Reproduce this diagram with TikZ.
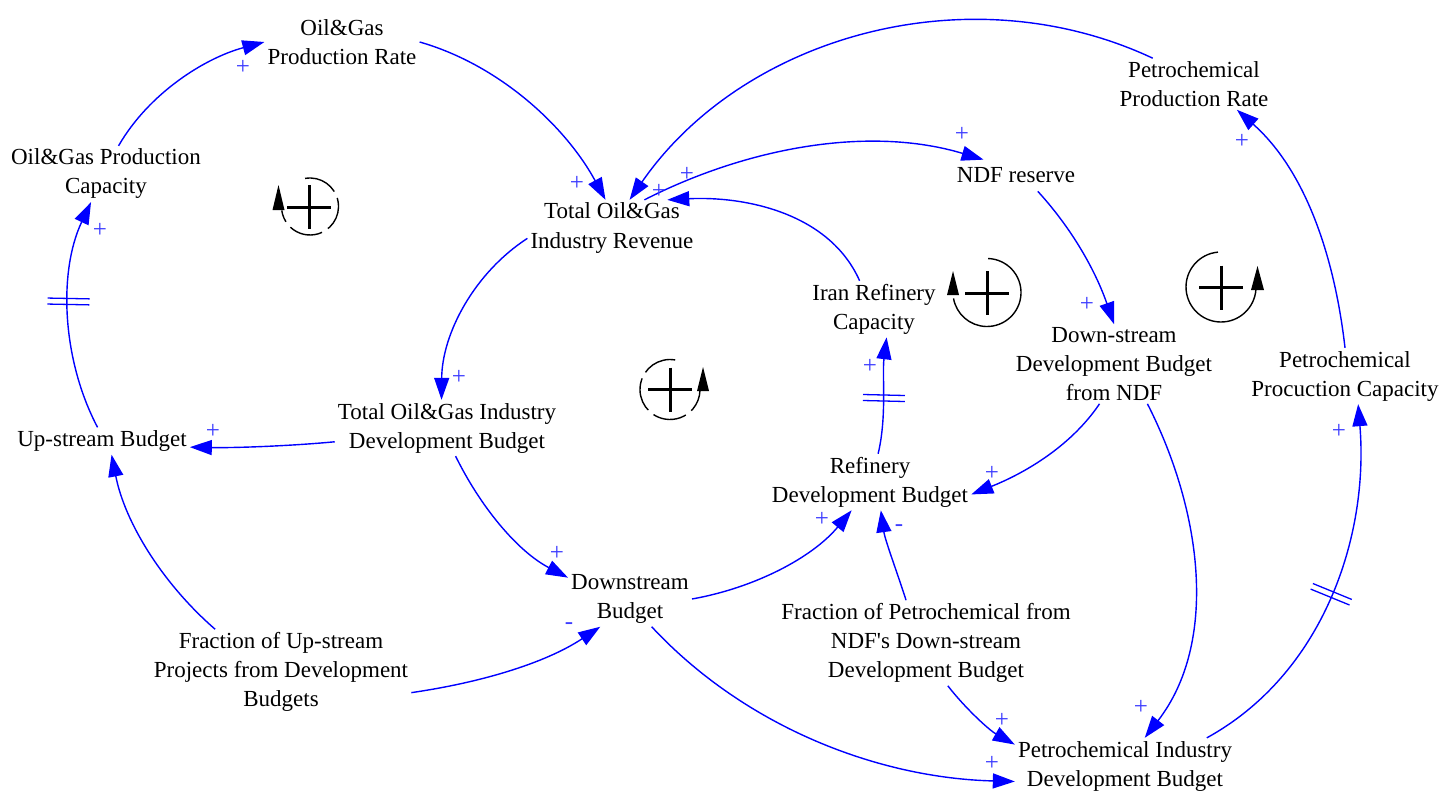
\documentclass[tikz,border=0pt]{standalone}
\usepackage{fontspec}
\setmainfont{Liberation Serif}
\usetikzlibrary{arrows.meta,decorations.markings}
\definecolor{linkblue}{RGB}{0,0,255}
\definecolor{polblue}{RGB}{60,60,255}
\begin{document}
\begin{tikzpicture}[x=1pt,y=-1pt,
  var/.style={align=center,inner sep=3pt,font=\fontsize{23}{29}\selectfont,text=black},
  link/.style={draw=linkblue,line width=1.4pt,-{Triangle[length=22pt,width=15pt]}},
  pol/.style={text=polblue,inner sep=0pt,font=\fontsize{25}{25}\selectfont},
  delay/.style={postaction={decorate},decoration={markings,mark=at position #1 with
      {\draw[linkblue,line width=1.3pt,-] (-3pt,-21pt)--(-3pt,21pt) (3pt,-21pt)--(3pt,21pt);}}},
  loopc/.style={draw=black,line width=1.4pt},
  loopplus/.style={draw=black,line width=3pt},
  ]
\fill[white] (0,0) rectangle (1455,792);
\useasboundingbox (0,0) rectangle (1455,792);

% variables
\node[var] (prodrate) at (342,42) {Oil\&Gas\\Production Rate};
\node[var] (cap) at (106,174) {Oil\&Gas Production\\Capacity};
\node[var] (rev) at (612,228) {Total Oil\&Gas\\Industry Revenue};
\node[var,inner ysep=8pt] (ndf) at (1016,175.5) {NDF reserve};
\node[var] (pprate) at (1194,84) {Petrochemical\\Production Rate};
\node[var] (irc) at (874,309) {Iran Refinery\\Capacity};
\node[var] (dsndf) at (1114,364) {Down-stream\\Development Budget\\from NDF};
\node[var] (pcap) at (1345,376) {Petrochemical\\Procuction Capacity};
\node[var] (upb) at (102,441) {Up-stream Budget};
\node[var] (tdb) at (447,428) {Total Oil\&Gas Industry\\Development Budget};
\node[var] (rdb) at (870,482) {Refinery\\Development Budget};
\node[var] (dsb) at (630,599) {Downstream\\Budget};
\node[var] (fup) at (281,672) {Fraction of Up-stream\\Projects from Development\\Budgets};
\node[var] (fpet) at (926,643) {Fraction of Petrochemical from\\NDF\textquotesingle s Down-stream\\Development Budget};
\node[var] (pidb) at (1125,766) {Petrochemical Industry\\Development Budget};

% causal links
\draw[link] (cap.66) .. controls (149,93) and (205,58) .. (prodrate.west);
\draw[link] (prodrate.east) .. controls (500,65) and (566,127) .. (rev.103);
\draw[link] (pprate.148) .. controls (969,-28) and (743,36) .. (rev.58);
\draw[link] (rev.41) .. controls (746,148) and (868,125) .. (ndf.154);
\draw[link] (irc.117) .. controls (829,212) and (743,196) .. (rev.27);
\draw[link] (rev.187) .. controls (474,273) and (442,334) .. (tdb.101);
\draw[link] (tdb.187) .. controls (290,446) and (235,448) .. (upb.-4);
\draw[link,delay=0.56] (upb.108) .. controls (62,360) and (58,272) .. (cap.242);
\draw[link] (fup.147) .. controls (163,584) and (125,523) .. (upb.-55);
\draw[link] (fup.-9) .. controls (478,683) and (544,664) .. (dsb.223);
\draw[link] (tdb.-73) .. controls (480,506) and (517,551) .. (dsb.161);
\draw[link] (dsb.east) .. controls (754,588) and (812,558) .. (rdb.237);
\draw[link] (fpet.115) .. controls (897,572) and (885,540) .. (rdb.-69);
\draw[link,delay=0.48] (rdb.74) .. controls (887,417) and (882,375) .. (irc.-66);
\draw[link] (ndf.-36) .. controls (1075,232) and (1097,275) .. (dsndf.north);
\draw[link] (dsndf.250) .. controls (1069,449) and (1020,475) .. (rdb.-7);
\draw[link] (dsndf.-50) .. controls (1203,513) and (1218,643) .. (pidb.55);
\draw[link] (fpet.-63) .. controls (965,708) and (989,730) .. (pidb.169);
\draw[link] (dsb.-52) .. controls (745,727) and (878,778) .. (pidb.188);
\draw[link,delay=0.5] (pidb.19) .. controls (1323,674) and (1369,537) .. (pcap.-65);
\draw[link] (pcap.north) .. controls (1335,260) and (1307,172) .. (pprate.-31);

% polarities
\node[pol] (s1) at (243,67) {+};
\node[pol] (s2) at (577,183) {+};
\node[pol] (s3) at (687,174) {+};
\node[pol] (s4) at (659,191) {+};
\node[pol] (s5) at (962,134) {+};
\node[pol] (s6) at (1242,141) {+};
\node[pol] (s7) at (100,230) {+};
\node[pol] (s8) at (459,377) {+};
\node[pol] (s9) at (213,431) {+};
\node[pol] (s10) at (870,366) {+};
\node[pol] (s11) at (1087,304) {+};
\node[pol] (s12) at (992,473) {+};
\node[pol] (s13) at (822,519) {+};
\node[pol] (s14) at (899,528) {-};
\node[pol] (s15) at (557,553) {+};
\node[pol] (s16) at (569,626) {-};
\node[pol] (s17) at (1339,431) {+};
\node[pol] (s18) at (1141,707) {+};
\node[pol] (s19) at (1002,720) {+};
\node[pol] (s20) at (992,763) {+};

% loop markers
\draw[loopc,dash pattern=on 34pt off 7pt] (310,206.5) ++(-100:28.5) arc[start angle=-100,end angle=172,radius=28.5];
\fill (278.5,185) -- (272.5,210) -- (284.5,210) -- cycle;
\draw[loopplus] (287.3,207) -- (331.3,207) (309.3,185) -- (309.3,229);

\draw[loopc,dash pattern=on 34pt off 7pt] (670,389.5) ++(-80:30) arc[start angle=-80,end angle=-358,radius=30];
\fill (703,367) -- (697,391) -- (709,391) -- cycle;
\draw[loopplus] (648,389.5) -- (692,389.5) (670,367.5) -- (670,411.5);

\draw[loopc] (987,292.5) ++(-88:34) arc[start angle=-88,end angle=170,radius=34];
\fill (953,271) -- (947,295) -- (959,295) -- cycle;
\draw[loopplus] (965,293) -- (1009,293) (987,271) -- (987,315);

\draw[loopc] (1221,287) ++(-95:35) arc[start angle=-95,end angle=-362,radius=35];
\fill (1257.5,266) -- (1251,290) -- (1264,290) -- cycle;
\draw[loopplus] (1199,287.5) -- (1243,287.5) (1221,265.5) -- (1221,309.5);
\end{tikzpicture}
\end{document}
